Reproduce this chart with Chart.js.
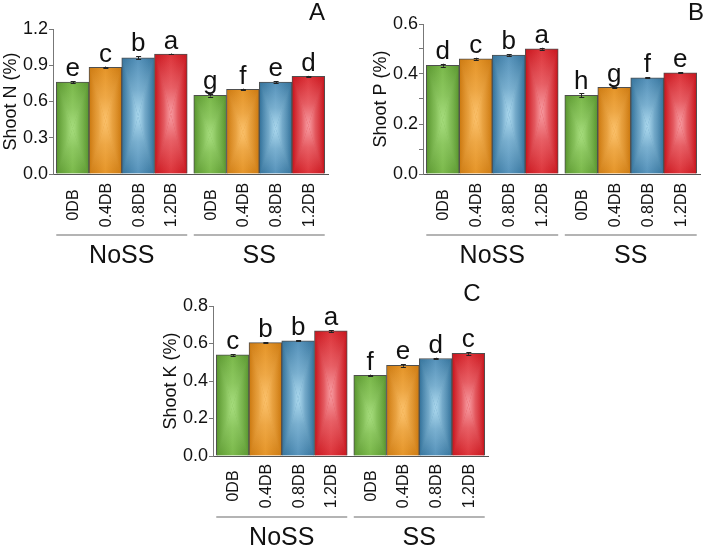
<!DOCTYPE html>
<html>
<head>
<meta charset="utf-8">
<script src="https://cdn.jsdelivr.net/npm/chart.js@4.4.0/dist/chart.umd.min.js"></script>
<style>
  body { margin: 0; background: #fff; width: 704px; height: 549px; position: relative; overflow: hidden; }
  .panel { position: absolute; }
</style>
</head>
<body>
<div class="panel" style="left:0;top:0"><canvas id="chartA" width="340" height="275"></canvas></div>
<div class="panel" style="left:370px;top:0"><canvas id="chartB" width="334" height="275"></canvas></div>
<div class="panel" style="left:160px;top:276px"><canvas id="chartC" width="340" height="273"></canvas></div>
<script>
// categories
const doses = ['0DB', '0.4DB', '0.8DB', '1.2DB'];
const groups = ['NoSS', 'SS'];

// shoot N (%)
const shootN = [0.760, 0.883, 0.962, 0.993, 0.651, 0.700, 0.760, 0.808];
const shootNErr = [0.007, 0.006, 0.012, 0.004, 0.010, 0.006, 0.006, 0.004];
const shootNLetters = ['e', 'c', 'b', 'a', 'g', 'f', 'e', 'd'];
const shootNTicks = [0.0, 0.3, 0.6, 0.9, 1.2];

// shoot P (%)
const shootP = [0.435, 0.461, 0.476, 0.501, 0.315, 0.347, 0.385, 0.405];
const shootPErr = [0.006, 0.004, 0.003, 0.004, 0.007, 0.003, 0.002, 0.002];
const shootPLetters = ['d', 'c', 'b', 'a', 'h', 'g', 'f', 'e'];
const shootPTicks = [0.0, 0.2, 0.4, 0.6];

// shoot K (%)
const shootK = [0.539, 0.605, 0.614, 0.667, 0.430, 0.483, 0.520, 0.547];
const shootKErr = [0.004, 0.003, 0.003, 0.005, 0.004, 0.007, 0.004, 0.007];
const shootKLetters = ['c', 'b', 'b', 'a', 'f', 'e', 'd', 'c'];
const shootKTicks = [0.0, 0.2, 0.4, 0.6, 0.8];

const FONT = 'Arial, "Liberation Sans", sans-serif';
const GAP = 0.2; // extra space between the two groups, in bar widths

// edge / centre / highlight colours per dose (glow as rgb triplet)
const palette = [
    { edge: '#5a9630', mid: '#7cba4c', glow: '168,222,128' },
    { edge: '#cc7a12', mid: '#e6962a', glow: '252,196,112' },
    { edge: '#36749c', mid: '#5894bc', glow: '176,220,240' },
    { edge: '#c8161e', mid: '#de363c', glow: '248,160,166' }
];

// x slot for every bar: dose index plus the group gap
const slots = [];
groups.forEach((g, gi) => doses.forEach((d, di) => slots.push(gi * doses.length + di + gi * GAP)));

function tri(ctx, pts, x0, y0, x1, y1, rgb) {
    const g = ctx.createLinearGradient(x0, y0, x1, y1);
    g.addColorStop(0, 'rgba(' + rgb + ',0.95)');
    g.addColorStop(0.45, 'rgba(' + rgb + ',0.4)');
    g.addColorStop(1, 'rgba(' + rgb + ',0)');
    ctx.fillStyle = g;
    ctx.beginPath();
    ctx.moveTo(pts[0], pts[1]);
    ctx.lineTo(pts[2], pts[3]);
    ctx.lineTo(pts[4], pts[5]);
    ctx.closePath();
    ctx.fill();
}

const barDeco = {
    id: 'barDeco',
    afterDatasetsDraw(chart) {
        const ctx = chart.ctx;
        const ys = chart.scales.y;
        const cfg = chart.options.plugins.barDeco;
        const meta = chart.getDatasetMeta(0);
        ctx.save();
        meta.data.forEach((bar, i) => {
            const p = bar.getProps(['x', 'y', 'base', 'width'], true);
            const l = p.x - p.width / 2 + 1, r = p.x + p.width / 2 - 1;
            const t = p.y + 1, b = p.base;
            const cx = p.x, cy = (t + b) / 2;
            const rgb = palette[i % 4].glow;
            // box-shaped highlight: four triangles meeting in the centre
            tri(ctx, [l, t, r, t, cx, cy], cx, cy, cx, t, rgb);
            tri(ctx, [l, b, r, b, cx, cy], cx, cy, cx, b, rgb);
            tri(ctx, [l, t, l, b, cx, cy], cx, cy, l, cy, rgb);
            tri(ctx, [r, t, r, b, cx, cy], cx, cy, r, cy, rgb);

            // error bar
            const v = cfg.values[i], e = cfg.errors[i];
            const yTop = ys.getPixelForValue(v + e), yBot = ys.getPixelForValue(v - e);
            ctx.strokeStyle = '#222';
            ctx.lineWidth = 1;
            ctx.beginPath();
            ctx.moveTo(Math.round(p.x) + 0.5, yTop);
            ctx.lineTo(Math.round(p.x) + 0.5, yBot);
            ctx.moveTo(p.x - 2, Math.round(yTop) + 0.5);
            ctx.lineTo(p.x + 3, Math.round(yTop) + 0.5);
            ctx.moveTo(p.x - 2, Math.round(yBot) + 0.5);
            ctx.lineTo(p.x + 3, Math.round(yBot) + 0.5);
            ctx.stroke();

            // significance letter
            ctx.fillStyle = '#111';
            ctx.font = '26px ' + FONT;
            ctx.textAlign = 'center';
            ctx.textBaseline = 'alphabetic';
            ctx.fillText(cfg.letters[i], p.x, yTop - 5);
        });
        ctx.restore();
    },
    afterDraw(chart) {
        const ctx = chart.ctx;
        const cfg = chart.options.plugins.barDeco;
        const area = chart.chartArea;
        const meta = chart.getDatasetMeta(0);
        ctx.save();
        // dose labels
        ctx.fillStyle = '#111';
        ctx.font = '16px ' + FONT;
        ctx.textAlign = 'center';
        ctx.textBaseline = 'middle';
        meta.data.forEach((bar, i) => {
            ctx.save();
            ctx.translate(bar.x, area.bottom + cfg.labelOffset);
            ctx.rotate(-Math.PI / 2);
            ctx.fillText(doses[i % doses.length], 0, 1);
            ctx.restore();
        });
        // group brackets + names
        groups.forEach((g, gi) => {
            const first = meta.data[gi * doses.length];
            const last = meta.data[gi * doses.length + doses.length - 1];
            const x0 = first.x - first.width / 2, x1 = last.x + last.width / 2;
            const ly = area.bottom + cfg.lineOffset;
            ctx.strokeStyle = '#b4b4b4';
            ctx.lineWidth = 2;
            ctx.beginPath();
            ctx.moveTo(x0, ly);
            ctx.lineTo(x1, ly);
            ctx.stroke();
            ctx.fillStyle = '#111';
            ctx.font = '25px ' + FONT;
            ctx.fillText(g, (x0 + x1) / 2, ly + 21);
        });
        // panel letter
        ctx.font = '24px ' + FONT;
        ctx.fillText(cfg.panel, cfg.panelX, cfg.panelY);
        ctx.restore();
    }
};

function makePanel(id, values, errors, letters, ticks, title, panel, box) {
    const step = ticks[1] - ticks[0];
    new Chart(document.getElementById(id), {
        type: 'bar',
        data: {
            datasets: [{
                data: values.map((v, i) => ({ x: slots[i], y: v })),
                barPercentage: 1,
                categoryPercentage: 1,
                borderWidth: 1,
                borderColor: '#4f4f4f',
                backgroundColor: c => {
                    const xs = c.chart.scales.x;
                    const col = palette[c.dataIndex % 4];
                    if (!xs || !xs.width) return col.mid;
                    const cx = xs.getPixelForValue(slots[c.dataIndex]);
                    const hw = (xs.getPixelForValue(1) - xs.getPixelForValue(0)) / 2;
                    const g = c.chart.ctx.createLinearGradient(cx - hw, 0, cx + hw, 0);
                    g.addColorStop(0, col.edge);
                    g.addColorStop(0.5, col.mid);
                    g.addColorStop(1, col.edge);
                    return g;
                }
            }]
        },
        options: {
            responsive: false,
            animation: false,
            devicePixelRatio: 1,
            layout: { padding: { top: box.top, right: box.right, left: 0, bottom: 0 } },
            plugins: {
                legend: { display: false },
                tooltip: { enabled: false },
                barDeco: {
                    values: values, errors: errors, letters: letters, panel: panel,
                    panelX: box.px, panelY: box.py,
                    labelOffset: box.labelOffset, lineOffset: 61
                }
            },
            scales: {
                x: {
                    type: 'linear',
                    offset: false,
                    min: -0.6,
                    max: slots[slots.length - 1] + 0.6,
                    afterBuildTicks: s => { s.ticks = slots.map(v => ({ value: v })); },
                    ticks: { display: false },
                    grid: { display: false },
                    border: { display: true, color: '#555', width: 1 },
                    afterFit: s => { s.height = box.bottom; }
                },
                y: {
                    min: ticks[0],
                    max: ticks[ticks.length - 1],
                    afterBuildTicks: s => {
                        const out = [];
                        ticks.forEach((t, i) => {
                            out.push({ value: t, major: true });
                            if (i < ticks.length - 1) out.push({ value: t + step / 2 });
                        });
                        s.ticks = out;
                    },
                    ticks: {
                        color: '#111',
                        font: { family: FONT, size: 18 },
                        padding: 1,
                        callback: function (v, i, arr) {
                            return arr[i].major ? v.toFixed(1) : '';
                        }
                    },
                    grid: { drawOnChartArea: false, drawTicks: true, tickLength: 4, color: '#777' },
                    border: { display: true, color: '#777', width: 1 },
                    title: {
                        display: true, text: title, color: '#111', padding: 0,
                        font: { family: FONT, size: 18 }
                    },
                    afterFit: s => { s.width = 53; }
                }
            }
        },
        plugins: [barDeco]
    });
}

makePanel('chartA', shootN, shootNErr, shootNLetters, shootNTicks, 'Shoot N (%)', 'A',
    { top: 29, right: 12, bottom: 101, px: 317, py: 13, labelOffset: 31 });
makePanel('chartB', shootP, shootPErr, shootPLetters, shootPTicks, 'Shoot P (%)', 'B',
    { top: 24, right: 4, bottom: 101, px: 326, py: 13, labelOffset: 31 });
makePanel('chartC', shootK, shootKErr, shootKLetters, shootKTicks, 'Shoot K (%)', 'C',
    { top: 30, right: 12, bottom: 93, px: 312, py: 18, labelOffset: 30 });
</script>
</body>
</html>
